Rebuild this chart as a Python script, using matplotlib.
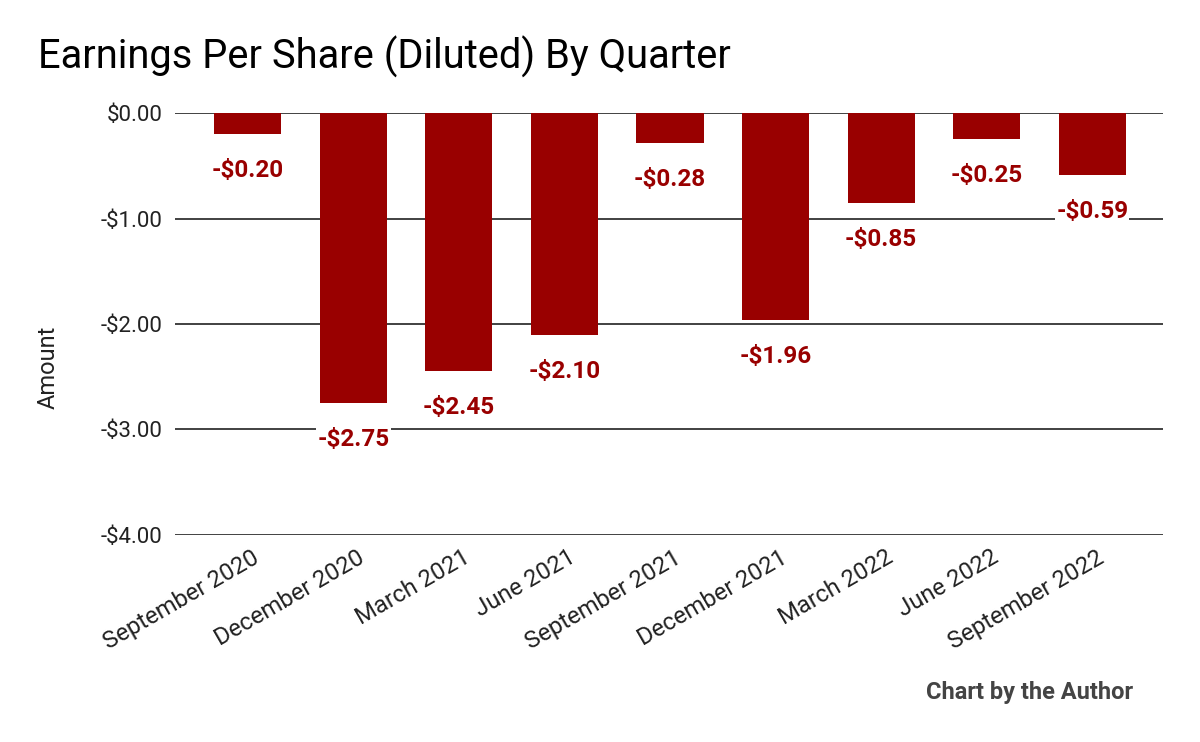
import matplotlib.pyplot as plt

plt.rcParams['font.family'] = ['Roboto', 'DejaVu Sans']

quarters = ['September 2020', 'December 2020', 'March 2021', 'June 2021',
            'September 2021', 'December 2021', 'March 2022', 'June 2022',
            'September 2022']
eps = [-0.20, -2.75, -2.45, -2.10, -0.28, -1.96, -0.85, -0.25, -0.59]
yticks = [0, -1, -2, -3, -4]

bar_color = '#990000'

fig = plt.figure(figsize=(12, 7.42), dpi=100)
ax = fig.add_axes([0.1458, 0.279, 0.8233, 0.5687])

x = range(len(quarters))
ax.bar(x, eps, width=0.635, color=bar_color, zorder=3)

# data labels under each bar
for xi, v in zip(x, eps):
    ax.annotate('-${:.2f}'.format(abs(v)), (xi, v), xytext=(0, -18),
                textcoords='offset points', ha='center', va='top',
                fontsize=17.5, fontweight='bold', color=bar_color, zorder=4,
                bbox=dict(boxstyle='square,pad=0.05', fc='white', ec='none'))

ax.set_ylim(-4, 0)
ax.set_xlim(-0.69, 8.67)
ax.set_yticks(yticks)
ax.set_yticklabels(['$0.00' if t == 0 else '-${:.2f}'.format(abs(t)) for t in yticks])
ax.set_xticks(list(x))
ax.set_xticklabels([])

# slanted category labels, nudged a bit right of the tick
for xi, q in zip(x, quarters):
    ax.annotate(q, (xi, 0), xycoords=ax.get_xaxis_transform(),
                xytext=(7, -15), textcoords='offset points', rotation=30,
                ha='right', va='center', rotation_mode='anchor',
                fontsize=17.2, color='#222222')

for t in yticks:
    ax.axhline(t, color='#333333', lw=1.3, zorder=1)

for s in ax.spines.values():
    s.set_visible(False)
ax.tick_params(length=0, labelsize=16, colors='#222222')
ax.tick_params(axis='y', pad=9)

fig.text(0.032, 0.923, 'Earnings Per Share (Diluted) By Quarter', fontsize=28.7,
         color='black', va='center', ha='left')
fig.text(0.04, 0.505, 'Amount', rotation=90, fontsize=17, color='#222222',
         va='center', ha='center')
fig.text(0.944, 0.067, 'Chart by the Author', fontsize=17, fontweight='bold',
         color='#444444', ha='right', va='center')

fig.savefig('out.png', dpi=100)
